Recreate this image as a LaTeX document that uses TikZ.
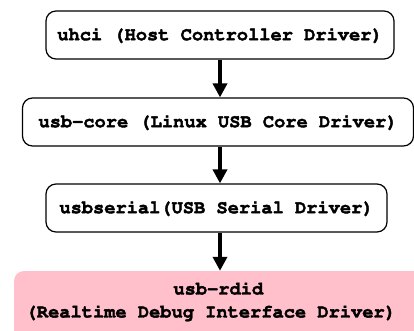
\documentclass[tikz,border=0pt]{standalone}
\usepackage[T1]{fontenc}
\usetikzlibrary{arrows.meta}
\definecolor{rdidpink}{RGB}{255,192,203}
% Courier bold, thickened a little by stroking the glyph outlines too
\newcommand{\courierbold}{\fontencoding{T1}\fontfamily{pcr}\fontseries{b}\fontsize{18.7}{23}\selectfont}
\newcommand{\heavy}[1]{\special{pdf:literal direct 2 Tr 0.4 w}#1\special{pdf:literal direct 0 Tr 1.2 w}}
\tikzset{
  drv/.style={draw=black, line width=1.2pt, rounded corners=10pt, fill=white,
    minimum height=48pt, inner sep=0pt, font=\courierbold},
  target/.style={fill=rdidpink, rounded corners=10pt, inner sep=0pt},
  tag/.style={align=center, inner sep=0pt, font=\courierbold},
  flow/.style={line width=4pt, -{Triangle[width=14pt,length=14pt]}}
}
\begin{document}
\begin{tikzpicture}[x=1pt,y=-1pt]
  \useasboundingbox (0,0) rectangle (414,331);
  \begin{scope}
    \clip (0,0) rectangle (414,331);
    % driver stack
    \node[drv, minimum width=348pt] (uhci) at (220,35) {\heavy{uhci (Host Controller Driver)}};
    \node[drv, minimum width=391pt] (core) at (218,122) {\heavy{usb-core (Linux USB Core Driver)}};
    \node[drv, minimum width=341pt] (serial) at (216.5,208) {\heavy{usbserial(USB Serial Driver)}};
    \node[target, minimum width=420pt, minimum height=80pt] (rdid) at (224,311) {};
    \node[tag] (rdidtext) at (210.8,301) {\hspace*{15pt}\heavy{usb-rdid}\\\heavy{(Realtime Debug Interface Driver)}};
    % arrows down the stack
    \coordinate (ax) at (220,0);
    \draw[flow] (uhci.south -| ax) -- (core.north -| ax);
    \draw[flow] (core.south -| ax) -- (serial.north -| ax);
    \draw[flow] (serial.south -| ax) -- (rdid.north -| ax);
  \end{scope}
\end{tikzpicture}
\end{document}
